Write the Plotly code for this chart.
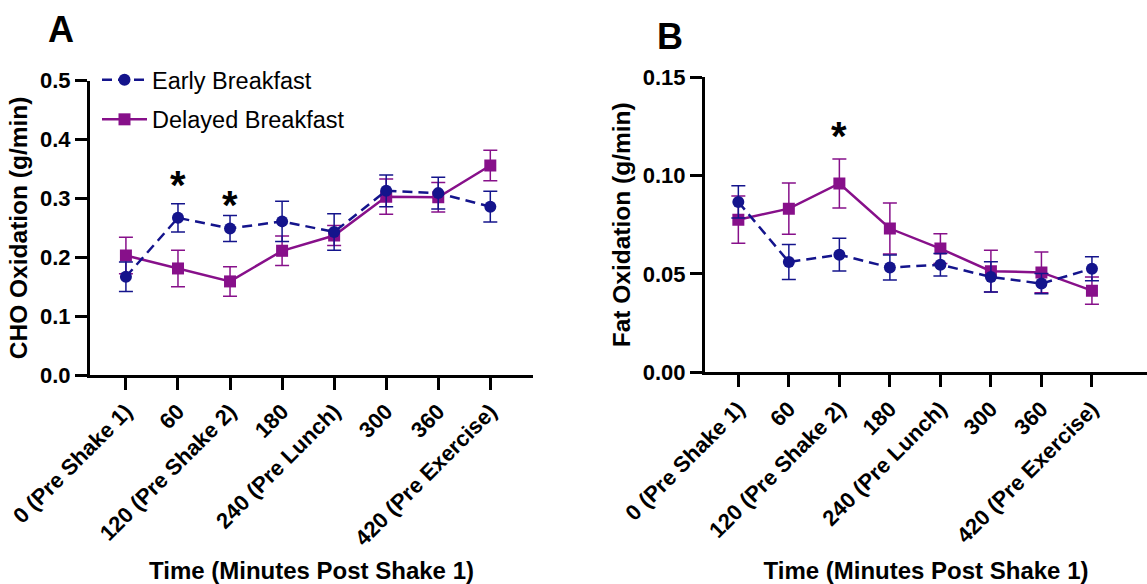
import plotly.graph_objects as go

# Time points (minutes after shake 1)
time_labels = ["0 (Pre Shake 1)", "60", "120 (Pre Shake 2)", "180",
               "240 (Pre Lunch)", "300", "360", "420 (Pre Exercise)"]
time_idx = list(range(len(time_labels)))

# Carbohydrate oxidation (g/min), mean and SEM
cho_early = [0.167, 0.267, 0.249, 0.261, 0.243, 0.313, 0.309, 0.286]
cho_early_sem = [0.025, 0.024, 0.022, 0.034, 0.031, 0.027, 0.027, 0.026]
cho_delayed = [0.203, 0.181, 0.159, 0.211, 0.237, 0.303, 0.302, 0.356]
cho_delayed_sem = [0.031, 0.031, 0.025, 0.025, 0.017, 0.030, 0.025, 0.026]

# Fat oxidation (g/min), mean and SEM
fat_early = [0.0866, 0.0561, 0.0598, 0.0533, 0.0547, 0.0485, 0.0451, 0.0527]
fat_early_sem = [0.0082, 0.0089, 0.0083, 0.0064, 0.0057, 0.0077, 0.0052, 0.0061]
fat_delayed = [0.0776, 0.0832, 0.0960, 0.0731, 0.0629, 0.0514, 0.0508, 0.0415]
fat_delayed_sem = [0.012, 0.013, 0.0124, 0.013, 0.0076, 0.0106, 0.0104, 0.0069]

# Significant differences between conditions (time index, marker height)
cho_sig_idx = [1, 2]
cho_sig_y = [0.337, 0.303]
fat_sig_idx = [2]
fat_sig_y = [0.124]

EARLY = "#14148C"
DELAYED = "#87108A"
FONT = "Liberation Sans, Arial, sans-serif"

fig = go.Figure()


def add_pair(early, early_sem, delayed, delayed_sem, xa, ya, show):
    fig.add_trace(go.Scatter(
        x=time_idx, y=delayed, xaxis=xa, yaxis=ya,
        name="Delayed Breakfast", showlegend=show, legendrank=2,
        legendgroup="delayed",
        mode="lines+markers",
        line=dict(color=DELAYED, width=2.5),
        marker=dict(symbol="square", size=12, color=DELAYED),
        error_y=dict(type="data", array=delayed_sem, visible=True,
                     color=DELAYED, thickness=1.5, width=7),
    ))
    fig.add_trace(go.Scatter(
        x=time_idx, y=early, xaxis=xa, yaxis=ya,
        name="Early Breakfast", showlegend=show, legendrank=1,
        legendgroup="early",
        mode="lines+markers",
        line=dict(color=EARLY, width=2.5, dash="10px,6px"),
        marker=dict(symbol="circle", size=12, color=EARLY),
        error_y=dict(type="data", array=early_sem, visible=True,
                     color=EARLY, thickness=1.5, width=7),
    ))


add_pair(cho_early, cho_early_sem, cho_delayed, cho_delayed_sem, "x", "y", True)
add_pair(fat_early, fat_early_sem, fat_delayed, fat_delayed_sem, "x2", "y2", False)

STAR_FONT = dict(family=FONT, size=40, color="black")
annotations = []
for i, yv in zip(cho_sig_idx, cho_sig_y):
    annotations.append(dict(x=i, y=yv, xref="x", yref="y", text="<b>*</b>",
                            showarrow=False, yanchor="middle", yshift=-8,
                            font=STAR_FONT))
for i, yv in zip(fat_sig_idx, fat_sig_y):
    annotations.append(dict(x=i, y=yv, xref="x2", yref="y2", text="<b>*</b>",
                            showarrow=False, yanchor="middle", yshift=-8,
                            font=STAR_FONT))

# Panel letters
annotations.append(dict(x=61 / 1147, y=1 - 29 / 584, xref="paper", yref="paper",
                        text="<b>A</b>", showarrow=False, xanchor="center",
                        yanchor="middle", font=dict(family=FONT, size=36, color="black")))
annotations.append(dict(x=670 / 1147, y=1 - 36 / 584, xref="paper", yref="paper",
                        text="<b>B</b>", showarrow=False, xanchor="center",
                        yanchor="middle", font=dict(family=FONT, size=36, color="black")))

xaxis_common = dict(
    tickmode="array", tickvals=time_idx, ticktext=[f"<b>{t}</b>" for t in time_labels],
    tickangle=-45, showline=True, linecolor="black", linewidth=3,
    ticks="outside", ticklen=12, tickwidth=3, tickcolor="black",
    showgrid=False, zeroline=False, automargin=False,
    tickfont=dict(family=FONT, size=22, color="black"),
    title=dict(text="<b>Time (Minutes Post Shake 1)</b>",
               font=dict(family=FONT, size=24, color="black"), standoff=20),
)
yaxis_common = dict(
    showline=True, linecolor="black", linewidth=3,
    ticks="outside", ticklen=12, tickwidth=3, tickcolor="black",
    showgrid=False, zeroline=False, automargin=False,
    tickfont=dict(family=FONT, size=22, color="black"),
)

fig.update_layout(
    width=1147, height=584,
    margin=dict(l=0, r=0, t=0, b=0),
    template="none",
    paper_bgcolor="white", plot_bgcolor="white",
    xaxis=dict(domain=[90 / 1147, 533 / 1147], range=[-0.69, 7.82],
               anchor="y", **xaxis_common),
    xaxis2=dict(domain=[705 / 1147, 1.0], range=[-0.66, 8.09],
                anchor="y2", **xaxis_common),
    yaxis=dict(domain=[(584 - 375) / 584, (584 - 80.7) / 584], range=[0, 0.5],
               dtick=0.1, tickformat=".1f", anchor="x",
               tickprefix="<b>", ticksuffix="</b>",
               title=dict(text="<b>CHO Oxidation (g/min)</b>",
                          font=dict(family=FONT, size=24.5, color="black"), standoff=6),
               **yaxis_common),
    yaxis2=dict(domain=[(584 - 372.3) / 584, (584 - 77.3) / 584], range=[0, 0.15],
                dtick=0.05, tickformat=".2f", anchor="x2",
                tickprefix="<b>", ticksuffix="</b>",
                title=dict(text="<b>Fat Oxidation (g/min)</b>",
                           font=dict(family=FONT, size=24.5, color="black"), standoff=6),
                **yaxis_common),
    legend=dict(x=97 / 1147, y=1 - 58 / 584, xanchor="left", yanchor="top",
                bgcolor="rgba(0,0,0,0)", tracegroupgap=6, itemwidth=45,
                font=dict(family=FONT, size=23.5, color="black")),
    annotations=annotations,
    showlegend=True,
)

fig.write_html("out.html")
